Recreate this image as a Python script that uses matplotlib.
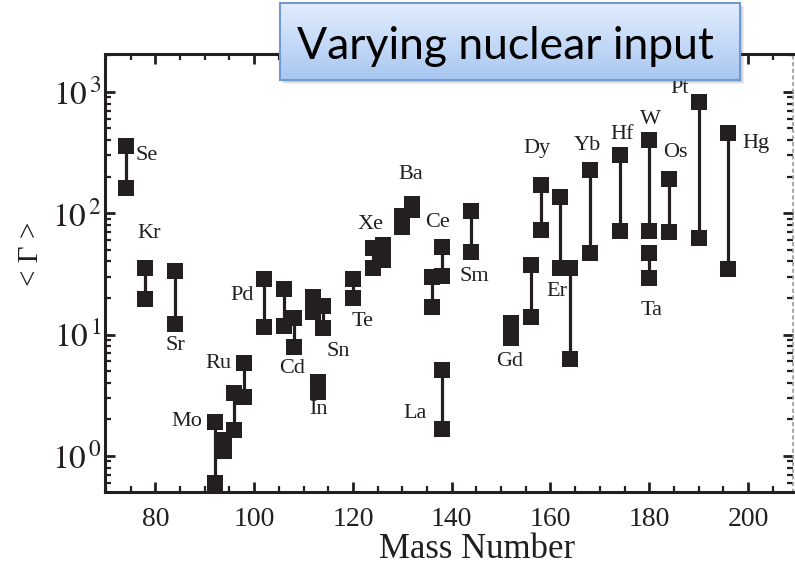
import numpy as np
import matplotlib.pyplot as plt
from matplotlib.patches import Rectangle
from matplotlib.ticker import MultipleLocator, LogLocator, NullFormatter, FuncFormatter

plt.rcParams['font.family'] = ['Liberation Serif', 'DejaVu Serif']
plt.rcParams['mathtext.fontset'] = 'stix'

# isotope, mass number and the two <Gamma> values joined by a bar
element = ['Se', 'Kr', 'Sr', 'Mo', 'Mo', 'Ru', 'Ru', 'Pd', 'Cd', 'Cd', 'In',
           'Sn', 'Sn', 'Te', 'Xe', 'Xe', 'Ba', 'Ba', 'La', 'Ce', 'Ce', 'Sm',
           'Gd', 'Dy', 'Dy', 'Er', 'Er', 'Yb', 'Hf', 'W', 'Ta', 'Os', 'Pt', 'Hg']
mass = [74, 78, 84, 92, 94, 96, 98, 102, 106, 108, 113,
        112, 114, 120, 124, 126, 130, 132, 138, 136, 138, 144,
        152, 156, 158, 162, 164, 168, 174, 180, 180, 184, 190, 196]
gamma_hi = [360, 35.5, 33.5, 1.91, 1.36, 3.3, 5.85, 28.8, 23.8, 13.7, 4.07,
            20.5, 17.2, 28.8, 52, 55, 95, 120, 5.1, 29.9, 52.9, 104,
            12.5, 37.6, 171, 136, 35.5, 228, 303, 403, 47, 192, 828, 460]
gamma_lo = [162, 19.7, 12.3, 0.60, 1.1, 1.64, 3.06, 11.6, 11.8, 7.9, 3.37,
            15.4, 11.4, 20.1, 35.5, 41, 77, 107, 1.67, 16.9, 30.5, 48,
            9.4, 14.0, 73, 35.5, 6.3, 47.2, 71.6, 71.6, 29.3, 70, 62.7, 34.8]

# where each element name sits (mass, <Gamma>)
label_name = ['Se', 'Kr', 'Sr', 'Mo', 'Ru', 'Pd', 'Cd', 'In', 'Sn', 'Te', 'Xe',
              'Ba', 'La', 'Ce', 'Sm', 'Gd', 'Dy', 'Er', 'Yb', 'Hf', 'W', 'Ta',
              'Os', 'Pt', 'Hg']
label_pos = [(78.3, 297), (78.7, 67.6), (84.0, 8.07), (86.4, 1.91), (92.7, 5.73),
             (97.6, 20.8), (107.7, 5.21), (113.0, 2.39), (117.0, 7.2), (121.9, 12.7),
             (123.5, 80.2), (131.8, 207), (132.6, 2.22), (137.2, 83.4), (144.5, 29.9),
             (151.8, 5.96), (157.3, 340), (161.3, 22.5), (167.4, 359), (174.5, 443),
             (180.2, 589), (180.4, 15.7), (185.2, 315), (186.2, 1061), (201.6, 373)]

ink = '#231f20'

fig = plt.figure(figsize=(7.95, 5.68), dpi=100)
ax = fig.add_axes([0.132, 0.134, 0.8655, 0.771])

for m, hi, lo in zip(mass, gamma_hi, gamma_lo):
    ax.plot([m, m], [lo, hi], '-', color=ink, lw=2.3, solid_capstyle='butt')
    ax.plot([m, m], [lo, hi], 's', color=ink, ms=11.3, mec=ink, mew=0)

for name, (xp, yp) in zip(label_name, label_pos):
    ax.text(xp, yp, name, fontsize=16, ha='center', va='center', color=ink)

ax.set_yscale('log')
ax.set_xlim(69.8, 209.1)
ax.set_ylim(0.505, 2050)

ax.xaxis.set_major_locator(MultipleLocator(20))
ax.xaxis.set_minor_locator(MultipleLocator(5))
ax.yaxis.set_major_locator(LogLocator(base=10))
ax.yaxis.set_minor_locator(LogLocator(base=10, subs=np.arange(2, 10)))
ax.yaxis.set_minor_formatter(NullFormatter())
ax.yaxis.set_major_formatter(
    FuncFormatter(lambda v, p: r'$10^{\,%d}$' % round(np.log10(v))))

ax.tick_params(which='both', direction='in', top=True, right=True,
               color=ink, labelcolor=ink)
ax.tick_params(which='major', length=7, width=2)
ax.tick_params(which='minor', length=4, width=1.6)
ax.tick_params(axis='x', pad=11, labelsize=20)
ax.tick_params(axis='y', pad=2, labelsize=24)

for side in ['left', 'bottom', 'top']:
    ax.spines[side].set_linewidth(2.2)
    ax.spines[side].set_color(ink)
ax.spines['right'].set_linestyle((0, (1.5, 2.5)))
ax.spines['right'].set_color('#9a9a9a')
ax.spines['right'].set_linewidth(1.2)

fig.text(477 / 795, 1 - 550 / 568, 'Mass Number', fontsize=25,
         ha='center', va='center', color=ink)
fig.text(31 / 795, 1 - 254 / 568, '< Γ >', fontsize=21, rotation=90,
         ha='center', va='center', color=ink)

# title banner with a soft drop shadow
bx, by, bw, bh = 280 / 795, 1 - 80 / 568, 460 / 795, 77 / 568
for k, a in enumerate([0.10, 0.10, 0.12, 0.14]):
    off = (4 - k) / 795
    fig.patches.append(Rectangle((bx + off, by - (4 - k) / 568), bw, bh,
                                 transform=fig.transFigure, color='#555555',
                                 alpha=a, lw=0, zorder=4))

bax = fig.add_axes([bx, by, bw, bh], zorder=5)
grad = np.linspace(0, 1, 100).reshape(-1, 1)
top_c = np.array([0.89, 0.93, 0.99])
bot_c = np.array([0.66, 0.78, 0.95])
img = top_c + grad[..., None] * (bot_c - top_c)
bax.imshow(img, aspect='auto', extent=[0, 1, 0, 1], origin='upper')
bax.set_xticks([])
bax.set_yticks([])
for s in bax.spines.values():
    s.set_color('#6f9bd2')
    s.set_linewidth(1.5)
bax.text(0.49, 0.44, 'Varying nuclear input', fontsize=32, family='Lato',
         ha='center', va='center', color='black', transform=bax.transAxes)

fig.savefig('out.png', dpi=100)
